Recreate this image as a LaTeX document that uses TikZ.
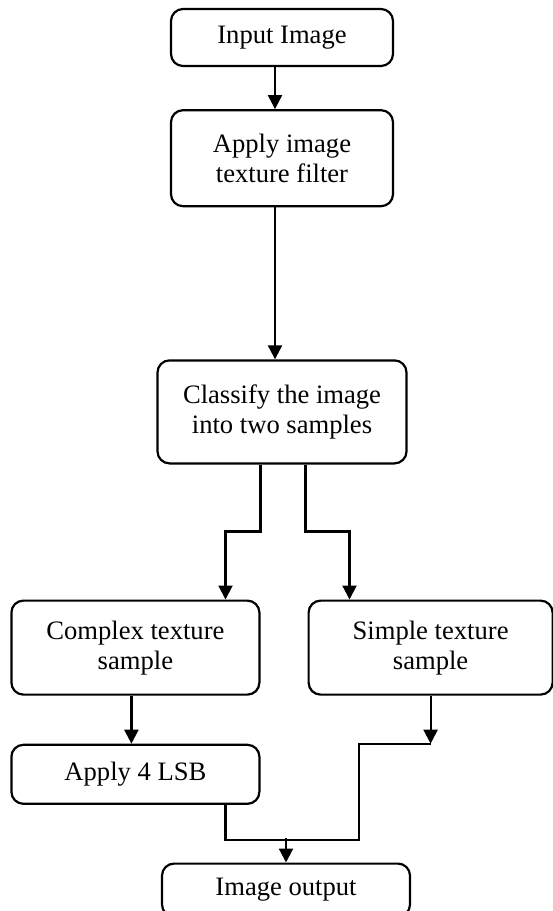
\documentclass[tikz,border=0pt]{standalone}
\usepackage{fontspec}
\setmainfont{Liberation Serif}
\usepackage{tikz}
\usetikzlibrary{arrows.meta, positioning, calc}
\tikzset{
  stepnode/.style={
    rectangle, rounded corners=6pt,
    draw=black, line width=1.1pt, fill=white,
    inner sep=2pt, align=center,
    font=\fontsize{13.3}{15}\selectfont
  },
  flowarrow/.style={
    -{Triangle[length=7pt,width=7pt]}, line width=1.1pt, color=black
  },
  flowline/.style={
    line width=1.1pt, color=black
  }
}

\begin{document}
\begin{tikzpicture}[x=0.5pt, y=-0.5pt]
  \useasboundingbox (0,0) rectangle (552,911);

  \node[stepnode, minimum width=111pt, minimum height=28.5pt] (inp) at (282,37.5) {Input Image};
  \node[stepnode, minimum width=111pt, minimum height=48pt, below=21pt of inp] (filt) {Apply image\\texture filter};
  \node[stepnode, minimum width=124.5pt, minimum height=51.5pt, below=76pt of filt] (cls) {Classify the image\\into two samples};

  \node[stepnode, minimum width=124pt, minimum height=47pt, below left=67.5pt and 10.75pt of cls.south] (cpx) {Complex texture\\sample};
  \node[stepnode, minimum width=122pt, minimum height=47pt, below right=67.5pt and 12.75pt of cls.south] (smp) {Simple texture\\sample};
  \node[stepnode, minimum width=124pt, minimum height=29.5pt, below=24pt of cpx] (lsb) {Apply 4 LSB};
  \node[stepnode, minimum width=124pt, minimum height=26.5pt, below=199pt of cls, xshift=2pt] (out) {Image output};

  \coordinate[below=24pt of smp.south] (sbend);
  \coordinate[above=12.5pt of out.north] (jn);

  \draw[flowarrow] ([xshift=-3.5pt]inp.south) -- ([xshift=-3.5pt]filt.north);
  \draw[flowarrow] ([xshift=-3.5pt]filt.south) -- ([xshift=-3.5pt]cls.north);
  \draw[flowarrow] ([xshift=-10.75pt]cls.south) -- ++(0pt,-33.5pt) -| ([xshift=-17.5pt]cpx.north east);
  \draw[flowarrow] ([xshift=11.75pt]cls.south) -- ++(0pt,-33.5pt) -| ([xshift=21pt]smp.north west);
  \draw[flowarrow] ([xshift=-2pt]cpx.south) -- ([xshift=-2pt]lsb.north);
  \draw[flowarrow] (smp) -- (sbend);
  \draw[flowline] (sbend) -| ++(-36pt,-48pt) -| ([xshift=-17.5pt]lsb.south east);
  \draw[flowarrow] (jn) -- (out);
\end{tikzpicture}
\end{document}
